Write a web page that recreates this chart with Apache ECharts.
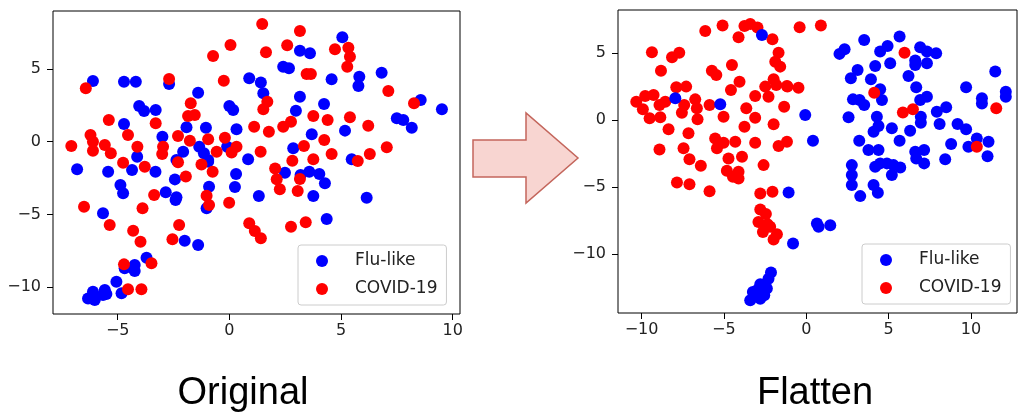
<!DOCTYPE html>
<html>
<head>
<meta charset="utf-8">
<script src="https://cdn.jsdelivr.net/npm/echarts@6/dist/echarts.min.js"></script>
<style>
  html, body { margin: 0; padding: 0; background: #fff; }
  #chart { width: 1019px; height: 414px; }
</style>
</head>
<body>
<div id="chart"></div>
<script>
// --- data ---
var seriesNames = ['Flu-like', 'COVID-19'];
var panelTitles = ['Original', 'Flatten'];

// left panel (original embedding)
var origFlu = [
    [-6.11,4.17],[-4.72,4.12],[-4.19,4.12],[-2.70,3.97],[-1.40,3.37],[-4.04,2.45],[-3.82,2.11],[-3.30,2.18],
    [-4.72,1.22],[-1.92,0.99],[-1.05,0.96],[-3.00,0.34],[0.00,2.45],[0.17,2.18],[0.32,0.85],[-4.13,-1.03],
    [-2.07,-0.69],[-1.35,-0.34],[-1.14,-0.80],[-0.95,-1.26],[-2.37,-1.26],[-0.10,-0.34],[-6.82,-1.90],[-5.43,-2.06],
    [-4.36,-1.95],[-3.31,-2.06],[-2.44,-2.59],[-4.88,-2.98],[-4.76,-3.55],[-2.85,-3.48],[-2.37,-3.82],[-2.41,-4.00],
    [-0.95,-1.37],[-0.91,-3.09],[-1.02,-4.58],[0.30,-2.22],[0.25,-3.12],[-5.66,-4.92],[-2.00,-6.80],[-1.40,-7.10],
    [-3.71,-7.97],[-4.24,-8.47],[-4.69,-8.70],[-4.24,-8.89],[-5.06,-9.62],[-4.83,-10.42],[-6.11,-10.31],[-6.33,-10.77],
    [-6.03,-10.88],[-5.58,-10.19],[-5.51,-10.47],[-5.66,-10.54],
    [5.06,7.18],[3.16,6.25],[3.61,6.07],[2.41,5.15],[2.67,5.04],[0.89,4.36],[1.41,4.06],[1.52,3.33],
    [4.58,4.29],[5.82,4.47],[5.78,3.83],[6.82,4.74],[8.57,2.87],[9.52,2.23],[3.16,3.09],[4.24,2.59],
    [2.98,2.13],[7.50,1.61],[7.79,1.49],[8.17,0.96],[5.18,0.76],[3.69,0.51],[2.86,-0.45],[0.84,-1.21],
    [5.48,-1.21],[2.49,-2.13],[3.19,-2.29],[3.58,-2.06],[4.03,-2.22],[4.28,-2.86],[3.76,-3.73],[1.32,-3.73],
    [6.15,-3.85],[4.36,-5.31]
];
var origCovid = [
    [0.05,6.65],[-0.73,5.89],[-6.43,3.67],[-2.70,4.31],[-0.25,4.19],[-1.73,2.64],[-1.85,1.77],[-1.55,1.84],
    [-5.40,1.49],[-3.30,1.26],[-6.22,0.46],[-4.54,0.46],[-2.30,0.39],[-7.08,-0.30],[-6.11,0.00],[-6.11,-0.62],
    [-5.58,-0.23],[-5.31,-0.80],[-4.12,-0.34],[-2.97,-0.34],[-3.01,-0.85],[-1.77,0.07],[-0.95,0.16],[-0.20,0.27],
    [-0.57,-0.69],[0.10,-0.75],[0.32,-0.34],[-4.76,-1.44],[-2.30,-1.42],[-1.25,-1.56],[-3.79,-1.72],
    [-0.75,-2.06],[-1.95,-2.40],[-3.37,-3.66],[-1.02,-3.71],[-0.91,-4.35],[-0.01,-4.19],[-6.51,-4.47],[-3.89,-4.58],
    [-5.36,-5.73],[-2.25,-5.73],[-4.31,-6.12],[-3.98,-6.87],[-2.55,-6.71],[-4.72,-8.43],[-3.49,-8.36],[-4.54,-10.14],
    [-3.94,-10.14],
    [1.47,8.09],[3.16,7.61],[1.64,6.14],[2.59,6.63],[4.73,6.35],[5.33,6.46],[5.40,5.84],[5.28,5.15],
    [3.46,4.65],[3.65,4.65],[7.12,3.48],[8.27,2.64],[1.70,2.75],[1.52,2.23],[3.76,1.77],[4.40,1.49],
    [5.40,1.68],[6.22,1.10],[2.76,1.37],[2.41,1.03],[1.11,1.03],[1.77,0.69],[4.25,0.12],[3.34,-0.30],
    [7.05,-0.38],[1.40,-0.69],[4.58,-0.85],[6.29,-0.85],[2.82,-1.31],[3.76,-1.21],[5.75,-1.33],[2.05,-1.85],
    [2.12,-2.58],[2.26,-3.27],[3.16,-2.56],[3.06,-3.39],[0.89,-5.61],[1.14,-6.14],[1.41,-6.64],[2.76,-5.84],
    [3.42,-5.54]
];

// right panel (flattened embedding)
var flatFlu = [
    [-2.14,-11.37],[-2.29,-11.82],[-2.79,-12.24],[-2.39,-12.56],[-2.99,-12.69],[-3.24,-12.81],[-3.40,-13.43],[-2.79,-13.31],
    [-2.55,-13.06],[-3.10,-13.13],[-1.07,-5.40],[-0.80,-9.20],
    [-0.06,0.37],[0.41,-1.54],[2.02,4.93],[2.33,5.28],[3.52,5.97],[5.67,6.22],[4.49,5.10],[4.94,5.52],
    [5.10,4.23],[4.19,4.03],[3.12,3.73],[2.71,3.11],[3.93,3.04],[4.49,2.29],[4.60,1.49],[2.84,1.54],
    [3.24,1.49],[3.52,1.12],[2.57,0.20],[4.29,0.25],[4.39,-0.45],[4.09,-0.87],[5.20,-0.62],[6.31,-0.80],
    [5.67,-1.54],[3.22,-1.54],[3.78,-2.24],[4.39,-2.24],[6.21,3.28],[6.68,2.44],[6.62,4.43],[6.62,4.10],
    [6.92,5.42],[7.33,5.10],[7.89,4.98],[7.33,4.23],[7.33,1.74],[6.92,1.49],[6.96,0.25],[6.96,-0.20],
    [7.93,0.62],[8.50,0.95],[8.10,-0.30],[9.19,-0.30],[9.71,-0.69],[8.80,-1.79],[9.85,-1.99],[10.36,-1.37],
    [11.07,-1.62],[11.01,-2.69],[9.71,2.44],[11.48,3.61],[10.67,1.62],[10.67,1.24],[12.12,2.11],[12.12,1.74],
    [6.62,-2.36],[7.16,-2.24],[6.68,-2.86],[7.16,-3.23],[8.44,-2.93],
    [2.77,-3.36],[2.77,-4.10],[2.77,-4.85],[3.28,-5.67],[4.19,-3.48],[4.49,-3.23],[4.90,-3.23],[5.30,-3.36],
    [5.71,-3.53],[5.20,-4.10],[4.09,-4.85],[4.35,-5.42],[0.65,-7.71],[0.75,-7.96],[1.46,-7.84]
];
// the few blue dots sitting inside the red cluster (drawn on top of it)
var flatFluStray = [[-2.69,6.34],[-7.95,1.62],[-5.22,1.17]];
var flatCovid = [
    [-6.13,6.64],[-5.08,7.04],[-3.75,7.01],[-3.40,7.16],[-2.96,6.89],[-4.11,6.17],[-2.05,6.02],[-9.37,5.05],
    [-8.15,4.68],[-7.71,5.02],[-8.82,3.68],[-5.73,3.68],[-5.46,3.36],[-4.51,4.10],[-1.68,5.02],[-1.88,4.35],
    [-1.58,3.98],[-4.05,2.86],[-4.57,2.24],[-7.89,2.44],[-7.29,2.49],[-9.78,1.79],[-9.27,1.87],[-10.32,1.37],
    [-9.92,0.80],[-9.51,0.13],[-8.86,0.20],[-8.91,1.12],[-8.56,1.37],[-7.55,0.55],[-7.41,1.12],[-6.74,1.54],
    [-6.64,0.87],[-6.60,0.05],[-5.87,1.12],[-5.02,0.25],[-8.36,-0.69],[-7.15,-0.99],[-8.91,-2.19],[-7.45,-2.11],
    [-3.64,0.87],[-3.10,1.79],[-2.49,2.49],[-1.98,3.04],[-1.82,2.61],[-2.29,1.74],[-1.17,2.54],[-1.34,0.99],
    [-3.10,0.17],[-3.75,-0.50],[-1.98,-0.32],[-5.53,-1.37],[-5.02,-1.69],[-5.42,-2.11],[-4.31,-1.62],[-3.10,-1.69],
    [-1.68,-1.94],[-1.17,-1.62],[-3.90,-2.74],[-4.72,-2.86],[-7.09,-2.93],[-6.40,-3.40],[-2.59,-3.36],
    [-4.82,-3.78],[-4.45,-4.23],[-4.11,-3.86],[-4.11,-4.35],[-7.85,-4.65],[-7.09,-4.78],[-5.87,-5.30],[-2.79,-5.47],
    [-2.05,-5.35],[-2.79,-6.66],[-2.45,-7.01],[-2.90,-7.59],[-2.35,-7.76],[-2.63,-8.34],[-2.19,-7.96],[-1.78,-8.51],
    [-1.98,-8.91],
    [-0.40,6.92],[0.89,7.04],[5.97,5.02],[-1.14,2.49],[-0.47,2.41],[4.13,2.04],[5.87,0.57],[6.48,0.80],
    [11.54,0.87],[10.36,-1.99]
];

// tick values
var origXTicks = [-5, 0, 5, 10];
var origYTicks = [-10, -5, 0, 5];
var flatXTicks = [-10, -5, 0, 5, 10];
var flatYTicks = [-10, -5, 0, 5];

var chart = echarts.init(document.getElementById('chart'), null, {renderer: 'canvas'});

var BLUE = '#0000ff', RED = '#ff0000';
var tickFont = 'DejaVu Sans';

function minusFmt(v) {
    return v < 0 ? '\u2212' + (-v) : String(v);
}

function valueAxis(gridIndex, min, max, ticks, isY) {
    return {
        type: 'value',
        gridIndex: gridIndex,
        min: min,
        max: max,
        splitLine: {show: false},
        axisLine: {show: false, onZero: false},
        axisTick: {
            show: true, inside: false, length: 6,
            customValues: ticks,
            lineStyle: {color: '#000', width: 1}
        },
        axisLabel: {
            show: true,
            customValues: ticks,
            margin: isY ? 12 : 9,
            color: '#222',
            fontFamily: tickFont,
            fontSize: 16,
            formatter: minusFmt
        }
    };
}

function legendAt(left, top) {
    return {
        data: seriesNames,
        orient: 'vertical',
        left: left,
        top: top,
        icon: 'circle',
        itemWidth: 12,
        itemHeight: 12,
        itemGap: 8,
        padding: [6, 9, 6, 18],
        borderColor: '#cccccc',
        borderWidth: 1,
        borderRadius: 3,
        backgroundColor: 'rgba(255,255,255,0.8)',
        selectedMode: false,
        textStyle: {
            fontFamily: tickFont,
            fontSize: 17,
            color: '#222',
            lineHeight: 20,
            padding: [0, 0, 0, 22]
        }
    };
}

function dots(name, color, xi, data) {
    return {
        name: name,
        type: 'scatter',
        xAxisIndex: xi,
        yAxisIndex: xi,
        symbol: 'circle',
        symbolSize: 12,
        itemStyle: {color: color, opacity: 1},
        emphasis: {disabled: true},
        data: data
    };
}

var option = {
    animation: false,
    backgroundColor: '#fff',
    grid: [
        {left: 53, top: 11, width: 407, height: 303, show: true, borderColor: '#000', borderWidth: 1, backgroundColor: 'transparent'},
        {left: 618, top: 10, width: 399, height: 303, show: true, borderColor: '#000', borderWidth: 1, backgroundColor: 'transparent'}
    ],
    xAxis: [
        valueAxis(0, -7.9, 10.33, origXTicks, false),
        valueAxis(1, -11.43, 12.8, flatXTicks, false)
    ],
    yAxis: [
        valueAxis(0, -11.84, 8.98, origYTicks, true),
        valueAxis(1, -14.38, 8.2, flatYTicks, true)
    ],
    legend: [legendAt(298, 245), legendAt(862, 244)],
    series: [
        dots(seriesNames[0], BLUE, 0, origFlu),
        dots(seriesNames[1], RED, 0, origCovid),
        dots(seriesNames[0], BLUE, 1, flatFlu),
        dots(seriesNames[1], RED, 1, flatCovid),
        dots(seriesNames[0], BLUE, 1, flatFluStray)
    ],
    graphic: [
        {
            type: 'polygon',
            shape: {points: [[473, 140], [526, 140], [526, 113], [578, 158], [526, 203], [526, 177], [473, 177]]},
            style: {fill: '#f8d5d1', stroke: '#c4665c', lineWidth: 1.5}
        },
        {
            type: 'text', x: 243, y: 394,
            style: {text: panelTitles[0], fontFamily: 'Liberation Sans', fontSize: 38, fill: '#000', align: 'center', verticalAlign: 'middle'}
        },
        {
            type: 'text', x: 815, y: 394,
            style: {text: panelTitles[1], fontFamily: 'Liberation Sans', fontSize: 38, fill: '#000', align: 'center', verticalAlign: 'middle'}
        }
    ]
};

chart.setOption(option);
</script>
</body>
</html>
